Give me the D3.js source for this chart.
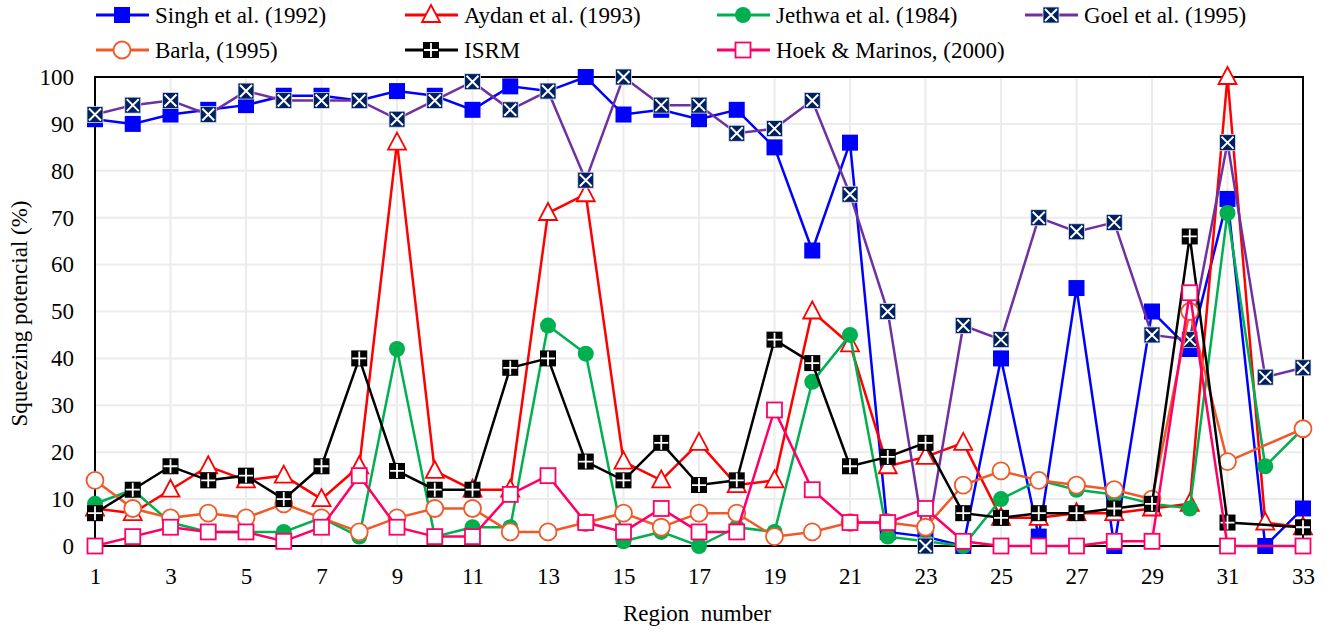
<!DOCTYPE html>
<html>
<head>
<meta charset="utf-8">
<script src="https://cdn.jsdelivr.net/npm/d3@7"></script>
<style>
  body { margin: 0; background: #fff; }
  svg text { font-family: "Liberation Serif", "Times New Roman", Times, Tinos, "DejaVu Serif", "Noto Serif", serif !important; }
</style>
</head>
<body>
<svg id="chart"></svg>
<script>
// data
const regions = d3.range(1, 34)
const singh  = [91,90,92,93,94,96,96,95,97,96,93,98,97,100,92,93,91,93,85,63,86,3,2,0,40,2,55,0,50,42,74,0,8]
const aydan  = [8,7,12,17,14,15,10,17,86,16,12,12,71,75,18,14,22,13,14,50,43,17,19,22,6,6,7,7,8,9,100,5,4]
const jethwa = [9,12,5,3,3,3,6,2,42,2,4,4,47,41,1,3,0,4,3,35,45,2,1,0,10,14,12,11,9,8,71,17,25]
const goel   = [92,94,95,92,97,95,95,95,91,95,99,93,97,78,100,94,94,88,89,95,75,50,0,47,44,70,67,69,45,44,86,36,38]
const barla  = [14,8,6,7,6,9,6,3,6,8,8,3,3,5,7,4,7,7,2,3,5,5,4,13,16,14,13,12,10,50,18,null,25]
const isrm   = [7,12,17,14,15,10,17,40,16,12,12,38,40,18,14,22,13,14,44,39,17,19,22,7,6,7,7,8,9,66,5,null,4]
const hoek   = [0,2,4,3,3,1,4,15,4,2,2,11,15,5,3,8,3,3,29,12,5,5,8,1,0,0,0,1,1,54,0,null,0]

const xTicks = d3.range(1, 34, 2)
const yTicks = d3.range(0, 101, 10)

const series = [
  {name: "Singh et al. (1992)", values: singh, color: "#0000ff", marker: "fsquare"},
  {name: "Aydan et al. (1993)", values: aydan, color: "#ff0000", marker: "triangle"},
  {name: "Jethwa et al. (1984)", values: jethwa, color: "#00b050", marker: "fcircle"},
  {name: "Goel et al. (1995)", values: goel, color: "#7030a0", marker: "xsquare"},
  {name: "Barla, (1995)", values: barla, color: "#f05a28", marker: "ocircle"},
  {name: "ISRM", values: isrm, color: "#000000", marker: "psquare"},
  {name: "Hoek & Marinos, (2000)", values: hoek, color: "#ff0066", marker: "osquare"}
]

const width = 1332, height = 633
const margin = {left: 95, right: 29, top: 77, bottom: 87}
const serif = "'Liberation Serif', 'Times New Roman', Times, Tinos, 'DejaVu Serif', serif"

const svg = d3.select("#chart").attr("width", width).attr("height", height)

const x = d3.scaleLinear().domain([1, 33]).range([margin.left, width - margin.right])
const y = d3.scaleLinear().domain([0, 100]).range([height - margin.bottom, margin.top])

// grid
svg.append("g").selectAll("line").data(yTicks).enter().append("line")
  .attr("x1", x(1)).attr("x2", x(33))
  .attr("y1", d => y(d)).attr("y2", d => y(d))
  .attr("stroke", "#ececec").attr("stroke-width", 2)
svg.append("g").selectAll("line").data(xTicks).enter().append("line")
  .attr("x1", d => x(d)).attr("x2", d => x(d))
  .attr("y1", y(0)).attr("y2", y(100))
  .attr("stroke", "#ececec").attr("stroke-width", 2)

// axes
let xAxis = svg.append("g")
  .attr("transform", "translate(0," + y(0) + ")")
  .call(d3.axisBottom(x).tickValues(xTicks).tickSize(0).tickPadding(22).tickFormat(d3.format("d")))
let yAxis = svg.append("g")
  .attr("transform", "translate(" + x(1) + ",0)")
  .call(d3.axisLeft(y).tickValues(yTicks).tickSize(0).tickPadding(21))
xAxis.select(".domain").remove()
yAxis.select(".domain").remove()
xAxis.attr("font-family", serif)
yAxis.attr("font-family", serif)
svg.selectAll(".tick text").attr("font-size", 23).attr("fill", "#000")

// frame
svg.append("rect")
  .attr("x", x(1)).attr("y", y(100))
  .attr("width", x(33) - x(1)).attr("height", y(0) - y(100))
  .attr("fill", "none").attr("stroke", "#000").attr("stroke-width", 2)

svg.append("text").attr("x", (x(1) + x(33)) / 2 - 2).attr("y", 621)
  .attr("font-family", serif)
  .attr("text-anchor", "middle").attr("font-size", 23).text("Region  number")
  .style("white-space", "pre")
svg.append("text")
  .attr("transform", "translate(27," + ((y(0) + y(100)) / 2 + 2) + ") rotate(-90)")
  .attr("font-family", serif)
  .attr("text-anchor", "middle").attr("font-size", 23).text("Squeezing potencial (%)")

function drawMarker(g, type, color) {
  if (type == "fsquare") {
    g.append("rect").attr("x", -8).attr("y", -8).attr("width", 16).attr("height", 16)
      .attr("fill", color)
  } else if (type == "triangle") {
    g.append("path").attr("d", "M0,-10L9,7L-9,7Z")
      .attr("fill", "#fff").attr("stroke", color).attr("stroke-width", 1.8)
  } else if (type == "fcircle") {
    g.append("circle").attr("r", 8).attr("fill", color)
  } else if (type == "xsquare") {
    g.append("rect").attr("x", -8).attr("y", -8).attr("width", 16).attr("height", 16)
      .attr("fill", "#002060").attr("stroke", "#d9e2f3").attr("stroke-width", 0.8)
    g.append("path").attr("d", "M-6,-6L6,6M6,-6L-6,6")
      .attr("stroke", "#fff").attr("stroke-width", 2)
  } else if (type == "ocircle") {
    g.append("circle").attr("r", 8.5).attr("fill", "#fff")
      .attr("stroke", color).attr("stroke-width", 1.8)
  } else if (type == "psquare") {
    g.append("rect").attr("x", -8).attr("y", -8).attr("width", 16).attr("height", 16)
      .attr("fill", "#000")
    g.append("path").attr("d", "M0,-7V7M-7,0H7")
      .attr("stroke", "#fff").attr("stroke-width", 1.8)
  } else if (type == "osquare") {
    g.append("rect").attr("x", -7.5).attr("y", -7.5).attr("width", 15).attr("height", 15)
      .attr("fill", "#fff").attr("stroke", color).attr("stroke-width", 1.8)
  }
}

const line = d3.line().x(d => x(d.r)).y(d => y(d.v))

series.forEach(function (s) {
  let pts = regions.map((r, i) => ({r: r, v: s.values[i]})).filter(d => d.v != null)
  let g = svg.append("g")
  g.append("path").datum(pts).attr("d", line)
    .attr("fill", "none").attr("stroke", s.color).attr("stroke-width", 2.5)
  g.selectAll("g.m").data(pts).enter().append("g").attr("class", "m")
    .attr("transform", d => "translate(" + x(d.r) + "," + y(d.v) + ")")
    .each(function () { drawMarker(d3.select(this), s.marker, s.color) })
})

// legend
const legendX = [96, 405, 717, 1025]
const legendY = [15, 50]
series.forEach(function (s, i) {
  let lx = legendX[i < 4 ? i : i - 4]
  let ly = legendY[i < 4 ? 0 : 1]
  let g = svg.append("g").attr("transform", "translate(" + lx + "," + ly + ")")
  g.append("line").attr("x1", 0).attr("x2", 53).attr("stroke", s.color).attr("stroke-width", 3)
  let m = g.append("g").attr("transform", "translate(26,0)")
  drawMarker(m, s.marker, s.color)
  g.append("text").attr("x", 59).attr("y", 8).attr("font-size", 23)
    .attr("font-family", serif).text(s.name)
})
</script>
</body>
</html>
